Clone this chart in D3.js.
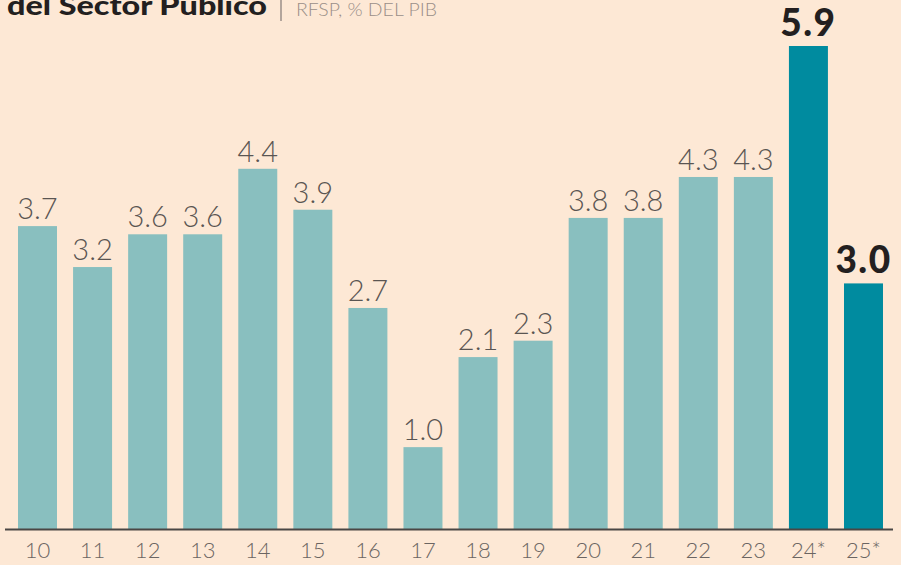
<!DOCTYPE html>
<html>
<head>
<meta charset="utf-8">
<script src="https://cdn.jsdelivr.net/npm/d3@7"></script>
<style>
  body { margin: 0; background: #fde8d5; }
  svg { display: block; }
</style>
</head>
<body>
<div id="container"></div>
<script>
// RFSP, % del PIB
let years = ["10", "11", "12", "13", "14", "15", "16", "17", "18", "19", "20", "21", "22", "23", "24*", "25*"];
let values = [3.7, 3.2, 3.6, 3.6, 4.4, 3.9, 2.7, 1.0, 2.1, 2.3, 3.8, 3.8, 4.3, 4.3, 5.9, 3.0];
let highlighted = ["24*", "25*"];

let w = 901;
let h = 565;
let baseline = 529;

let viz = d3.select("#container")
  .append("svg")
    .attr("width", w)
    .attr("height", h)
;

viz.append("rect")
  .attr("width", w)
  .attr("height", h)
  .attr("fill", "#fde8d5")
;

// band scale for the years
let xScale = d3.scaleBand()
  .domain(years)
  .range([7, 894])
  .paddingInner(0.292)
  .paddingOuter(0.2)
;

let yScale = d3.scaleLinear().domain([0, 5.9]).range([baseline, 46]);

// title, cut at the top like the original
viz.append("text")
  .attr("x", 7)
  .attr("y", 15)
  .attr("font-family", "Lato, 'Open Sans', sans-serif")
  .attr("font-weight", 900)
  .attr("font-size", "27px")
  .attr("textLength", 260)
  .attr("lengthAdjust", "spacingAndGlyphs")
  .attr("fill", "#231f20")
  .text("del Sector Público")
;

viz.append("line")
  .attr("x1", 281).attr("x2", 281)
  .attr("y1", -2).attr("y2", 21)
  .attr("stroke", "#9a8f88")
  .attr("stroke-width", 1.5)
;

viz.append("text")
  .attr("x", 296)
  .attr("y", 16)
  .attr("font-family", "Lato, sans-serif")
  .attr("font-weight", 300)
  .attr("font-size", "17px")
  .attr("textLength", 141)
  .attr("lengthAdjust", "spacingAndGlyphs")
  .attr("fill", "#9a8f88")
  .text("RFSP, % DEL PIB")
;

function isHigh(d) {
  return highlighted.includes(d);
}

// bars
viz.selectAll(".bar")
  .data(years)
  .enter()
  .append("rect")
    .attr("class", "bar")
    .attr("x", d => xScale(d))
    .attr("width", xScale.bandwidth())
    .attr("y", (d, i) => yScale(values[i]))
    .attr("height", (d, i) => baseline - yScale(values[i]))
    .attr("fill", d => isHigh(d) ? "#008b9f" : "#89bfbf")
;

// value labels
viz.selectAll(".val")
  .data(years)
  .enter()
  .append("text")
    .attr("class", "val")
    .attr("x", d => xScale(d) + xScale.bandwidth() / 2)
    .attr("y", (d, i) => yScale(values[i]) - (isHigh(d) ? 10 : 7))
    .attr("text-anchor", "middle")
    .attr("font-family", "Lato, sans-serif")
    .attr("font-weight", d => isHigh(d) ? 900 : 300)
    .attr("font-size", d => isHigh(d) ? "37px" : "29px")
    .attr("letter-spacing", d => isHigh(d) ? "1.5px" : "0px")
    .attr("fill", d => isHigh(d) ? "#231f20" : "#5a5552")
    .text((d, i) => values[i].toFixed(1))
;

// x axis
let xAxis = d3.axisBottom(xScale).tickSize(0).tickPadding(13);
let xAxisGroup = viz.append("g")
  .attr("class", "xaxis")
  .attr("transform", "translate(0," + baseline + ")")
  .call(xAxis)
;
xAxisGroup.select(".domain").remove();
xAxisGroup.selectAll("text")
  .attr("font-family", "Lato, sans-serif")
  .attr("font-weight", 300)
  .attr("font-size", "22px")
  .attr("fill", "#6b6562")
;

viz.append("line")
  .attr("x1", 5).attr("x2", 893)
  .attr("y1", baseline + 0.5).attr("y2", baseline + 0.5)
  .attr("stroke", "#4a4644")
  .attr("stroke-width", 2)
;
</script>
</body>
</html>
